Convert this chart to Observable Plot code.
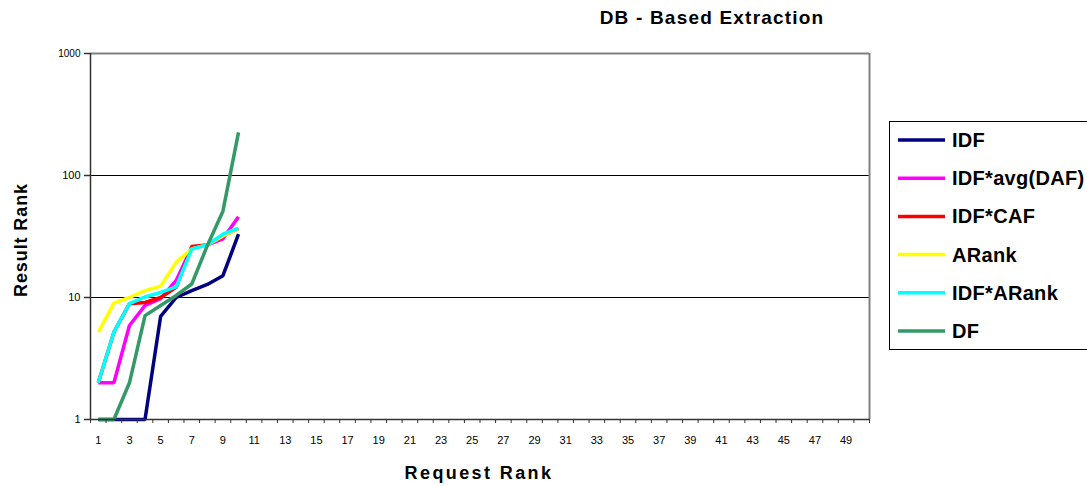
<!DOCTYPE html>
<html>
<head>
<meta charset="utf-8">
<script src="https://cdn.jsdelivr.net/npm/d3@7"></script>
<script src="https://cdn.jsdelivr.net/npm/@observablehq/plot@0.6"></script>
<style>
  body { margin: 0; background: #fff; }
  svg { font-family: "Liberation Sans", Arial, sans-serif; }
</style>
</head>
<body>
<div id="chart"></div>
<script>
const requestRank = [1, 2, 3, 4, 5, 6, 7, 8, 9, 10];
const seriesNames = ["IDF", "IDF*avg(DAF)", "IDF*CAF", "ARank", "IDF*ARank", "DF"];
const seriesColors = ["#000080", "#ff00ff", "#ff0000", "#ffff00", "#00ffff", "#339966"];
const idf       = [1, 1, 1, 1, 7, 10, 11.4, 12.8, 15.1, 33];
const idfAvgDaf = [2, 2, 5.9, 8.6, 9.8, 13.8, 25.8, 27, 30.3, 46];
const idfCaf    = [2, 5.2, 8.9, 9.1, 10, 12.1, 26.2, 27, 32, 36.6];
const aRank     = [5.2, 9, 10, 11.4, 12.4, 19.5, 25, 27, 32, 36.6];
const idfARank  = [2, 5.2, 8.9, 10.1, 11, 12.2, 25, 27, 33, 37];
const df        = [1, 1, 2, 7.1, 8.6, 10.4, 12.9, 26.7, 51, 226];
const xTickLabels = d3.range(1, 50, 2);
const yTickValues = [1, 10, 100, 1000];

const seriesValues = [idf, idfAvgDaf, idfCaf, aRank, idfARank, df];
const rows = [];
seriesNames.forEach((name, i) => {
  requestRank.forEach((r, j) => rows.push({series: name, x: r, y: seriesValues[i][j]}));
});

const W = 1087, H = 486;
const plotLeft = 90, plotRight = 869, plotTop = 53, plotBottom = 419;
const FONT = "'Liberation Sans', Arial, sans-serif";

const plot = Plot.plot({
  width: W,
  height: H,
  marginLeft: plotLeft,
  marginRight: W - plotRight,
  marginTop: plotTop,
  marginBottom: H - plotBottom,
  style: {fontFamily: FONT, background: "#fff"},
  x: {domain: [0.5, 50.5]},
  y: {type: "log", domain: [1, 1000]},
  color: {domain: seriesNames, range: seriesColors},
  marks: [
    Plot.ruleY([10, 100], {stroke: "#000", strokeWidth: 1}),
    Plot.ruleY([1000], {stroke: "#808080", strokeWidth: 2}),
    Plot.ruleX([50.5], {stroke: "#808080", strokeWidth: 2}),
    Plot.line(rows, {x: "x", y: "y", z: "series", stroke: "series", strokeWidth: 3.5, strokeLinejoin: "miter", strokeLinecap: "butt"}),
    // y axis
    Plot.axisY({ticks: yTickValues, tickFormat: () => "", tickSize: 6, stroke: "#333", strokeWidth: 1.5, label: null}),
    Plot.text(yTickValues, {y: d => d, frameAnchor: "left", text: d => String(d), textAnchor: "end", dx: -10, fontSize: d => d === 1000 ? 10 : 11, fill: "#000"}),
    Plot.ruleX([0.5], {stroke: "#333", strokeWidth: 1.5}),
    // x axis
    Plot.axisX({ticks: d3.range(0.5, 51, 1), tickFormat: () => "", tickSize: 4, stroke: "#333", strokeWidth: 1, label: null}),
    Plot.axisX({ticks: xTickLabels, tickFormat: d => String(d), tickSize: 0, tickPadding: 17, fontSize: 11, fill: "#000", label: null}),
    Plot.ruleY([1], {stroke: "#333", strokeWidth: 1.5})
  ]
});

const svg = d3.select(plot);

// Title
svg.append("text").attr("x", 712).attr("y", 24).attr("text-anchor", "middle")
  .attr("font-size", 19).attr("font-weight", "bold").attr("letter-spacing", 1.2)
  .attr("font-family", FONT).text("DB - Based Extraction");
// Axis titles
svg.append("text").attr("x", 479).attr("y", 479).attr("text-anchor", "middle")
  .attr("font-size", 18).attr("font-weight", "bold").attr("letter-spacing", 2.4)
  .attr("font-family", FONT).text("Request Rank");
svg.append("text").attr("transform", "translate(27,240) rotate(-90)").attr("text-anchor", "middle")
  .attr("font-size", 18).attr("font-weight", "bold").attr("letter-spacing", 0.9)
  .attr("font-family", FONT).text("Result Rank");

// Legend
const lg = svg.append("g");
lg.append("rect").attr("x", 889.5).attr("y", 121.5).attr("width", 210).attr("height", 228)
  .attr("fill", "#fff").attr("stroke", "#000").attr("stroke-width", 1);
seriesNames.forEach((name, i) => {
  const y = 140 + i * 38.2;
  lg.append("line").attr("x1", 898).attr("x2", 945).attr("y1", y).attr("y2", y)
    .attr("stroke", seriesColors[i]).attr("stroke-width", 3.5);
  lg.append("text").attr("x", 952).attr("y", y + 7).attr("text-anchor", "start")
    .attr("font-size", 20).attr("font-weight", "bold").attr("letter-spacing", 0.3)
    .attr("font-family", FONT).text(name);
});

document.getElementById("chart").appendChild(plot);
</script>
</body>
</html>
